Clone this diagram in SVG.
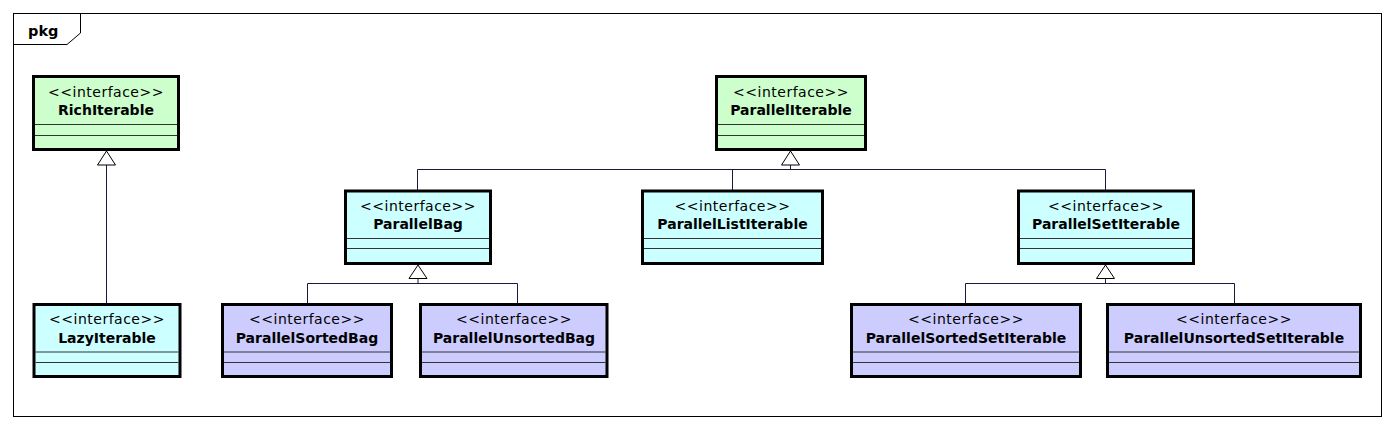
<svg xmlns="http://www.w3.org/2000/svg" width="1396" height="430" viewBox="0 0 1396 430">
<style>
.box{stroke:#000;stroke-width:3}
.g{fill:#ccffcc}
.c{fill:#ccffff}
.p{fill:#ccccff}
.div{stroke:#333;stroke-width:1}
.st{font-family:"DejaVu Sans",sans-serif;font-size:14px;letter-spacing:0.5px;fill:#000;text-anchor:middle}
.nm{font-family:"DejaVu Sans",sans-serif;font-size:14px;font-weight:bold;fill:#000;text-anchor:middle}
.ln{fill:none;stroke:#1a1a3a;stroke-width:1}
.tri{fill:#fff;stroke:#000;stroke-width:1}
</style>
<rect x="0" y="0" width="1396" height="430" fill="#fff"/>
<g id="frame">
<rect x="13.5" y="13.5" width="1368" height="403" fill="none" stroke="#000" stroke-width="1"/>
<path d="M13.5,44.5 H67 L80.5,33 V13.5" fill="none" stroke="#000" stroke-width="1"/>
<text x="28" y="36" font-family="DejaVu Sans,sans-serif" font-size="14.5" font-weight="bold" fill="#000">pkg</text>
</g>
<g id="connectors">
<line class="ln" x1="106.5" y1="165" x2="106.5" y2="303"/>
<path class="ln" d="M790.5,165 V169.5 M417.5,190 V169.5 H1105.5 V190 M732.5,169.5 V190"/>
<path class="ln" d="M418,278 V283.5 M307.5,303 V283.5 H517.5 V303"/>
<path class="ln" d="M1105.5,278 V283.5 M965.5,303 V283.5 H1234.5 V303"/>
<polygon class="tri" points="106.5,151 97.5,165 115.5,165"/>
<polygon class="tri" points="790.5,151 781.5,165 799.5,165"/>
<polygon class="tri" points="418,265 409,278.5 427,278.5"/>
<polygon class="tri" points="1105.5,265 1096.5,278.5 1114.5,278.5"/>
</g>
<g id="RichIterable">
<rect class="box g" x="33.5" y="76.5" width="145" height="73"/>
<line class="div" x1="35" y1="124.5" x2="177" y2="124.5"/>
<line class="div" x1="35" y1="135.5" x2="177" y2="135.5"/>
<text class="st" x="106" y="97">&lt;&lt;interface&gt;&gt;</text>
<text class="nm" x="106" y="115">RichIterable</text>
</g>
<g id="ParallelIterable">
<rect class="box g" x="716.5" y="76.5" width="149" height="73"/>
<line class="div" x1="718" y1="124.5" x2="864" y2="124.5"/>
<line class="div" x1="718" y1="135.5" x2="864" y2="135.5"/>
<text class="st" x="791" y="97">&lt;&lt;interface&gt;&gt;</text>
<text class="nm" x="791" y="115">ParallelIterable</text>
</g>
<g id="ParallelBag">
<rect class="box c" x="345.5" y="191" width="145" height="72.5"/>
<line class="div" x1="347" y1="238.5" x2="489" y2="238.5"/>
<line class="div" x1="347" y1="248.5" x2="489" y2="248.5"/>
<text class="st" x="418" y="211">&lt;&lt;interface&gt;&gt;</text>
<text class="nm" x="418" y="229">ParallelBag</text>
</g>
<g id="ParallelListIterable">
<rect class="box c" x="642.5" y="191" width="180" height="72.5"/>
<line class="div" x1="644" y1="238.5" x2="821" y2="238.5"/>
<line class="div" x1="644" y1="248.5" x2="821" y2="248.5"/>
<text class="st" x="732.5" y="211">&lt;&lt;interface&gt;&gt;</text>
<text class="nm" x="732.5" y="229">ParallelListIterable</text>
</g>
<g id="ParallelSetIterable">
<rect class="box c" x="1018.5" y="191" width="175" height="72.5"/>
<line class="div" x1="1020" y1="238.5" x2="1192" y2="238.5"/>
<line class="div" x1="1020" y1="248.5" x2="1192" y2="248.5"/>
<text class="st" x="1106" y="211">&lt;&lt;interface&gt;&gt;</text>
<text class="nm" x="1106" y="229">ParallelSetIterable</text>
</g>
<g id="LazyIterable">
<rect class="box c" x="34" y="304.5" width="146" height="72"/>
<line class="div" x1="35.5" y1="352" x2="178.5" y2="352"/>
<line class="div" x1="35.5" y1="362.5" x2="178.5" y2="362.5"/>
<text class="st" x="107" y="324">&lt;&lt;interface&gt;&gt;</text>
<text class="nm" x="107" y="342.5">LazyIterable</text>
</g>
<g id="ParallelSortedBag">
<rect class="box p" x="222.5" y="304.5" width="169" height="72"/>
<line class="div" x1="224" y1="352" x2="390" y2="352"/>
<line class="div" x1="224" y1="362.5" x2="390" y2="362.5"/>
<text class="st" x="307" y="324">&lt;&lt;interface&gt;&gt;</text>
<text class="nm" x="307" y="342.5">ParallelSortedBag</text>
</g>
<g id="ParallelUnsortedBag">
<rect class="box p" x="420.5" y="304.5" width="186.5" height="72"/>
<line class="div" x1="422" y1="352" x2="605.5" y2="352"/>
<line class="div" x1="422" y1="362.5" x2="605.5" y2="362.5"/>
<text class="st" x="514" y="324">&lt;&lt;interface&gt;&gt;</text>
<text class="nm" x="514" y="342.5">ParallelUnsortedBag</text>
</g>
<g id="ParallelSortedSetIterable">
<rect class="box p" x="851.5" y="304.5" width="229" height="72"/>
<line class="div" x1="853" y1="352" x2="1079" y2="352"/>
<line class="div" x1="853" y1="362.5" x2="1079" y2="362.5"/>
<text class="st" x="966" y="324">&lt;&lt;interface&gt;&gt;</text>
<text class="nm" x="966" y="342.5">ParallelSortedSetIterable</text>
</g>
<g id="ParallelUnsortedSetIterable">
<rect class="box p" x="1107.5" y="304.5" width="253" height="72"/>
<line class="div" x1="1109" y1="352" x2="1359" y2="352"/>
<line class="div" x1="1109" y1="362.5" x2="1359" y2="362.5"/>
<text class="st" x="1234" y="324">&lt;&lt;interface&gt;&gt;</text>
<text class="nm" x="1234" y="342.5">ParallelUnsortedSetIterable</text>
</g>
</svg>
